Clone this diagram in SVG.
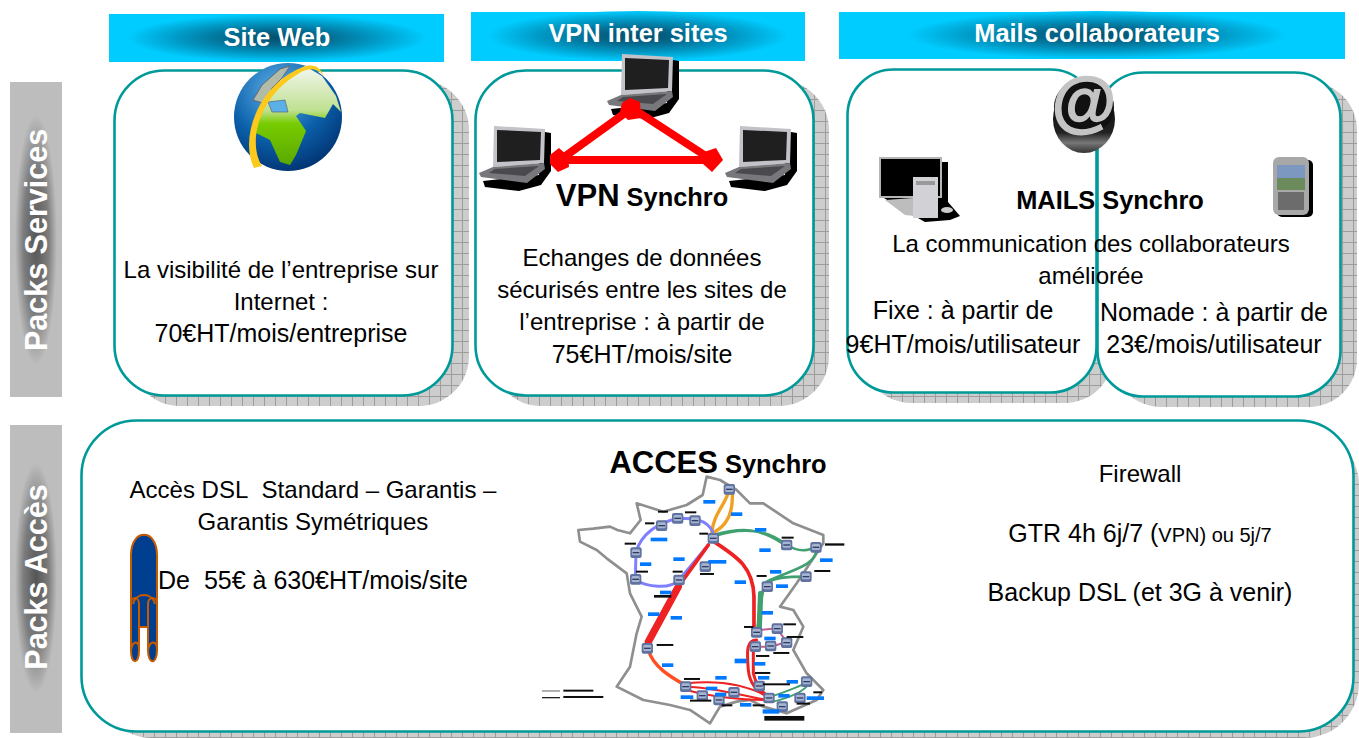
<svg xmlns="http://www.w3.org/2000/svg" width="1359" height="738" viewBox="0 0 1359 738">
<style>
text{font-family:"Liberation Sans",Arial,sans-serif;fill:#000}
.b{font-size:24px;text-anchor:middle}
.c{font-size:25px}
.h{font-size:25.4px;font-weight:bold;fill:#fff;text-anchor:middle}
.side{font-size:30.500px;font-weight:bold;fill:#fff;text-anchor:middle}
.panel{fill:#fff;stroke:#009999;stroke-width:2.6}
.shadow{fill:url(#grid)}
.t{font-weight:bold;text-anchor:middle}
.big{font-size:31px}
.sm{font-size:25.4px}
.lg{fill:#0078ff}
.lb{fill:#111}
.rt{fill:none;stroke-linecap:round}
</style>
<defs>
<pattern id="grid" width="11" height="11" patternUnits="userSpaceOnUse">
<rect width="11" height="11" fill="#cdcdcd"/>
<path d="M0 .5H11M.5 0V11" stroke="#9c9c9c" stroke-width="1"/>
</pattern>
<radialGradient id="hd" cx=".5" cy=".5" r=".5">
<stop offset="0" stop-color="#04506c"/><stop offset=".3" stop-color="#04688c"/><stop offset=".65" stop-color="#0098c4"/><stop offset="1" stop-color="#00ccff"/>
</radialGradient>
<radialGradient id="sideR" cx=".5" cy=".5" r=".5">
<stop offset="0" stop-color="#555"/><stop offset=".6" stop-color="#7d7d7d"/><stop offset="1" stop-color="#bdbdbd"/>
</radialGradient>
<radialGradient id="gl" cx=".4" cy=".25" r=".85">
<stop offset="0" stop-color="#5cb0e8"/><stop offset=".55" stop-color="#0a5ea8"/><stop offset="1" stop-color="#002a66"/>
</radialGradient>
<linearGradient id="land" x1="0" x2="0" y1="0" y2="1">
<stop offset="0" stop-color="#f4f7f0"/><stop offset=".45" stop-color="#bfe090"/><stop offset=".58" stop-color="#78cc00"/><stop offset="1" stop-color="#5aa800"/>
</linearGradient>
<linearGradient id="at" x1="0" x2="0" y1="0" y2="1">
<stop offset="0" stop-color="#000"/><stop offset=".7" stop-color="#222"/><stop offset=".85" stop-color="#777"/><stop offset="1" stop-color="#333"/>
</linearGradient>
<filter id="soft" x="-5%" y="-5%" width="110%" height="110%"><feGaussianBlur stdDeviation="1.700"/></filter>
<g id="laptop">
<path d="M60 6L72 8V46L62 60 40 66 6 62 4 56 60 50Z" fill="#000"/>
<path d="M15 1L66 4 65 38 14 42Z" fill="#c2c2c8"/>
<path d="M18 5L62 7 61 35 18 37Z" fill="#1f1f1f"/>
<path d="M14 42L65 38 66 44 48 58 2 52 0 48Z" fill="#77777c"/>
<path d="M16 44L60 41 46 51 10 48Z" fill="#4a4a4e"/>
</g>
<g id="node"><rect x="-17" y="-16" width="34" height="32" rx="6" fill="#5f72a0"/><rect x="-12" y="-10" width="24" height="18" rx="4" fill="#a6b4d0"/><path d="M-10 0H10" stroke="#2f3c60" stroke-width="4"/></g>
</defs>

<g id="side-services"><rect x="10" y="82" width="52" height="315" fill="#bdbdbd"/><ellipse cx="36" cy="240" rx="21" ry="125" fill="url(#sideR)"/><text class="side" transform="translate(47 240) rotate(-90)">Packs Services</text></g>
<g id="side-acces"><rect x="10" y="425" width="52" height="308" fill="#bdbdbd"/><ellipse cx="36" cy="578" rx="21" ry="115" fill="url(#sideR)"/><text class="side" transform="translate(47 577) rotate(-90)">Packs Accès</text></g>

<g id="header-web"><rect x="109" y="14" width="335" height="48" fill="#00ccff"/><ellipse cx="277" cy="38" rx="150" ry="24" fill="url(#hd)"/><text class="h" x="277" y="46">Site Web</text></g>
<g id="header-vpn"><rect x="471" y="12" width="334" height="49" fill="#00ccff"/><ellipse cx="638" cy="36" rx="150" ry="25" fill="url(#hd)"/><text class="h" x="638" y="42">VPN inter sites</text></g>
<g id="header-mails"><rect x="839" y="12" width="506" height="47" fill="#00ccff"/><ellipse cx="1097" cy="35" rx="190" ry="24" fill="url(#hd)"/><text class="h" x="1097" y="42">Mails collaborateurs</text></g>

<g id="pack-web">
<rect class="shadow" x="130" y="80" width="339" height="326" rx="50"/>
<rect class="panel" x="114.500" y="70.500" width="338" height="325" rx="50"/>
<circle cx="288" cy="117" r="54" fill="url(#gl)"/>
<path d="M253 132L262 104 280 80 305 66 322 76 336 96 341 112 333 104 325 118 300 113 296 116 306 131 296 155 290 165 280 162 270 140 258 134Z" fill="url(#land)"/>
<path d="M253 100L262 85 280 69 290 66 282 78 272 88 266 104Z" fill="#b0bca8" stroke="#667" stroke-width="1"/>
<path d="M268 102L285 100 288 112 272 112Z" fill="#5cb0e8" stroke="#567" stroke-width=".7"/>
<path d="M254 168C240 140 256 90 296 70 308 64 318 62 324 76 318 68 308 67 298 74 262 94 246 140 262 166Z" fill="#fdc91c"/>
<text class="b"><tspan x="281" y="278">La visibilité de l’entreprise sur</tspan><tspan x="281" y="310">Internet :</tspan><tspan class="c" x="281" y="342">70€HT/mois/entreprise</tspan></text>
</g>

<g id="pack-vpn">
<rect class="shadow" x="491" y="80" width="338" height="326" rx="50"/>
<rect class="panel" x="475.500" y="70.500" width="338" height="325" rx="50"/>
<use href="#laptop" x="607" y="53"/>
<use href="#laptop" x="479" y="125"/>
<use href="#laptop" x="725" y="125"/>
<text class="t" x="642" y="206"><tspan class="big">VPN</tspan><tspan class="sm"> Synchro</tspan></text>
<text class="b"><tspan x="642" y="266">Echanges de données</tspan><tspan x="642" y="298">sécurisés entre les sites de</tspan><tspan x="642" y="330">l’entreprise : à partir de</tspan><tspan class="c" x="642" y="363">75€HT/mois/site</tspan></text>
</g>

<g id="pack-mails-fixe">
<rect class="shadow" x="863" y="79" width="250" height="324" rx="48"/>
<rect class="panel" x="847.500" y="69.500" width="249" height="323" rx="46"/>
</g>
<g id="pack-mails-nomade">
<rect class="shadow" x="1113" y="82" width="244" height="325" rx="48"/>
<rect class="panel" x="1097.500" y="72.500" width="243" height="324" rx="46"/>
</g>
<g id="mails-content">
<path d="M942 162H948V202L960 216 950 220 925 222 900 208 884 198H942Z" fill="#000"/>
<rect x="879" y="157" width="63" height="41" fill="#b5b5b5"/><rect x="881" y="159" width="59" height="37" fill="#000"/>
<path d="M885 200L913 198 915 216 905 215Z" fill="#bdbdbd"/>
<rect x="913" y="177" width="25" height="41" fill="#d2d2d6"/><rect x="916" y="181" width="19" height="4" fill="#999"/>
<ellipse cx="947" cy="210" rx="6" ry="3" fill="#ccc"/>
<rect x="1277" y="160" width="36" height="57" rx="5" fill="#000"/>
<rect x="1273" y="157" width="36" height="58" rx="6" fill="#a8a8a8"/>
<rect x="1277" y="165" width="28" height="25" fill="#7d98c0"/><rect x="1277" y="178" width="28" height="12" fill="#6b8b5c"/>
<rect x="1278" y="192" width="26" height="18" fill="#6c6c6c"/>
<ellipse cx="1084" cy="119" rx="31" ry="34" fill="url(#at)"/>
<ellipse cx="1084" cy="107" rx="30" ry="28" fill="#111"/>
<text x="1084" y="124" font-size="66" font-weight="bold" text-anchor="middle" style="fill:#c4c4c4;stroke:#c4c4c4;stroke-width:1.500">@</text>
<text class="t sm" x="1110" y="209">MAILS Synchro</text>
<text class="b"><tspan x="1091" y="252">La communication des collaborateurs</tspan><tspan x="1091" y="284">améliorée</tspan></text>
<text class="b c"><tspan x="963" y="319">Fixe : à partir de</tspan><tspan x="963" y="353">9€HT/mois/utilisateur</tspan></text>
<text class="b c"><tspan x="1214" y="321">Nomade : à partir de</tspan><tspan x="1214" y="353">23€/mois/utilisateur</tspan></text>
</g>

<g id="pack-acces">
<rect class="shadow" x="97" y="430" width="1262" height="308" rx="55"/>
<rect class="panel" x="81.500" y="420.500" width="1272" height="311" rx="55"/>
<path d="M131 650V555C131 528 157 528 157 555V650H148V627H139V650Z" fill="#003f8f" stroke="#c85a00" stroke-width="2"/>
<path d="M131 604C131 596 139 596 139 604V650C139 665 131 665 131 650ZM148 604C148 596 157 596 157 604V650C157 665 148 665 148 650Z" fill="#003f8f" stroke="#c85a00" stroke-width="2"/>
<path d="M133 604C136 592 152 592 155 604M131 650C133 640 139 640 139 650M148 650C150 640 157 640 157 650" fill="none" stroke="#c85a00" stroke-width="2"/>
<text class="b"><tspan x="313" y="498">Accès DSL&#160; Standard – Garantis –</tspan><tspan x="313" y="530">Garantis Symétriques</tspan><tspan class="c" x="313" y="589">De&#160; 55€ à 630€HT/mois/site</tspan></text>
<text class="t" x="718" y="473"><tspan class="big">ACCES</tspan><tspan class="sm"> Synchro</tspan></text>
<text class="b"><tspan x="1140" y="482">Firewall</tspan><tspan class="c" x="1140" y="542">GTR 4h 6j/7 (<tspan font-size="20">VPN) ou 5j/7</tspan></tspan><tspan class="c" x="1140" y="601">Backup DSL (et 3G à venir)</tspan></text>
</g>

<g id="map" transform="translate(530 470) scale(.3333)">
<g filter="url(#soft)">
<path d="M530 20L518 75 470 105 400 125 320 100 332 150 300 190 262 180 240 170 190 176 145 180 150 215 200 240 230 265 290 310 300 370 335 440 320 490 300 590 260 650 340 690 420 705 480 720 540 760 570 710 620 695 660 690 700 710 770 730 860 690 880 660 830 610 790 540 820 470 790 420 750 410 800 340 880 220 880 195 790 160 700 100 660 100 620 60 570 30Z" fill="#fff" stroke="#8f8f8f" stroke-width="8" stroke-linejoin="round"/>
<g class="rt">
<path d="M545 190C550 130 590 100 597 60M545 190C590 170 610 130 607 70" stroke="#f0a020" stroke-width="10"/>
<path d="M548 185C530 150 500 145 445 145 400 155 340 180 318 245L316 330C350 350 420 360 447 330L535 225" stroke="#8080ff" stroke-width="9"/>
<path d="M550 200C620 175 700 170 770 225 810 250 840 240 855 230M550 195C640 170 690 175 760 222M860 235C860 290 780 300 710 335 690 370 690 430 682 480M830 320C780 320 720 320 700 350" stroke="#40a070" stroke-width="8"/>
<path d="M692 370L688 470" stroke="#40a070" stroke-width="16"/>
<path d="M552 215C620 260 670 290 672 380V480" stroke="#ee2020" stroke-width="11"/>
<path d="M535 225L445 350" stroke="#ee2020" stroke-width="11"/>
<path d="M445 350L355 515" stroke="#ee2020" stroke-width="22"/>
<path d="M355 540C370 590 420 620 465 645" stroke="#ff5020" stroke-width="10"/>
<path d="M680 510C650 510 650 540 655 600 660 650 690 670 715 680M670 520V610C680 650 700 670 715 680" stroke="#ee2020" stroke-width="9"/>
<path d="M470 640C560 630 640 640 715 680M470 650C540 650 600 670 715 690M470 660C540 680 640 690 700 690" stroke="#ee2020" stroke-width="6"/>
<path d="M720 680C760 670 800 650 830 640M730 695C770 685 810 670 830 650" stroke="#40a070" stroke-width="6"/>
<path d="M690 480L740 475 770 515 725 530 675 530" stroke="#c06090" stroke-width="6"/>
</g>
<g>
<use href="#node" x="598" y="58"/><use href="#node" x="550" y="205"/><use href="#node" x="443" y="145"/><use href="#node" x="495" y="152"/><use href="#node" x="395" y="167"/><use href="#node" x="318" y="248"/><use href="#node" x="317" y="328"/><use href="#node" x="447" y="330"/><use href="#node" x="526" y="290"/><use href="#node" x="770" y="225"/><use href="#node" x="858" y="232"/><use href="#node" x="828" y="320"/><use href="#node" x="712" y="350"/><use href="#node" x="680" y="487"/><use href="#node" x="742" y="476"/><use href="#node" x="770" y="518"/><use href="#node" x="722" y="528"/><use href="#node" x="676" y="530"/><use href="#node" x="352" y="535"/><use href="#node" x="467" y="650"/><use href="#node" x="612" y="667"/><use href="#node" x="517" y="677"/><use href="#node" x="567" y="690"/><use href="#node" x="688" y="648"/><use href="#node" x="717" y="684"/><use href="#node" x="757" y="710"/><use href="#node" x="810" y="684"/><use href="#node" x="830" y="635"/>
</g>
<g>
<rect class="lg" x="520" y="90" width="36" height="11"/><rect class="lg" x="603" y="127" width="34" height="11"/><rect class="lg" x="675" y="174" width="34" height="11"/><rect class="lg" x="688" y="235" width="34" height="11"/><rect class="lg" x="870" y="265" width="38" height="11"/><rect class="lg" x="720" y="300" width="34" height="11"/><rect class="lg" x="738" y="343" width="36" height="11"/><rect class="lg" x="614" y="331" width="34" height="11"/><rect class="lg" x="362" y="203" width="50" height="11"/><rect class="lg" x="330" y="277" width="34" height="11"/><rect class="lg" x="430" y="262" width="34" height="11"/><rect class="lg" x="535" y="270" width="54" height="11"/><rect class="lg" x="390" y="362" width="34" height="11"/><rect class="lg" x="354" y="427" width="34" height="11"/><rect class="lg" x="422" y="438" width="34" height="11"/><rect class="lg" x="695" y="423" width="34" height="11"/><rect class="lg" x="703" y="500" width="34" height="11"/><rect class="lg" x="396" y="580" width="34" height="11"/><rect class="lg" x="614" y="566" width="36" height="14"/><rect class="lg" x="672" y="576" width="34" height="11"/><rect class="lg" x="684" y="618" width="34" height="11"/><rect class="lg" x="556" y="618" width="34" height="11"/><rect class="lg" x="528" y="650" width="34" height="11"/><rect class="lg" x="555" y="668" width="34" height="11"/><rect class="lg" x="452" y="676" width="38" height="11"/><rect class="lg" x="630" y="699" width="34" height="11"/><rect class="lg" x="698" y="718" width="50" height="13"/><rect class="lg" x="770" y="630" width="34" height="11"/><rect class="lg" x="745" y="672" width="34" height="11"/><rect class="lg" x="830" y="679" width="52" height="11"/>
</g>
<g>
<rect class="lb" x="384" y="122" width="30" height="6"/><rect class="lb" x="465" y="124" width="34" height="6"/><rect class="lb" x="345" y="157" width="28" height="6"/><rect class="lb" x="508" y="188" width="26" height="6"/><rect class="lb" x="284" y="218" width="34" height="6"/><rect class="lb" x="318" y="302" width="36" height="6"/><rect class="lb" x="428" y="302" width="30" height="6"/><rect class="lb" x="510" y="309" width="42" height="6"/><rect class="lb" x="372" y="375" width="52" height="8"/><rect class="lb" x="755" y="200" width="36" height="6"/><rect class="lb" x="885" y="220" width="58" height="7"/><rect class="lb" x="853" y="300" width="48" height="6"/><rect class="lb" x="680" y="315" width="30" height="6"/><rect class="lb" x="642" y="468" width="28" height="6"/><rect class="lb" x="760" y="460" width="38" height="6"/><rect class="lb" x="770" y="498" width="50" height="6"/><rect class="lb" x="730" y="546" width="48" height="6"/><rect class="lb" x="678" y="555" width="40" height="6"/><rect class="lb" x="380" y="522" width="50" height="6"/><rect class="lb" x="675" y="606" width="46" height="6"/><rect class="lb" x="698" y="640" width="82" height="6"/><rect class="lb" x="462" y="624" width="48" height="6"/><rect class="lb" x="480" y="689" width="64" height="6"/><rect class="lb" x="575" y="703" width="32" height="6"/><rect class="lb" x="668" y="703" width="36" height="6"/><rect class="lb" x="703" y="738" width="120" height="14"/><rect class="lb" x="800" y="698" width="40" height="6"/><rect class="lb" x="850" y="664" width="26" height="6"/><rect class="lb" x="100" y="659" width="90" height="6"/><rect class="lb" x="100" y="678" width="120" height="6"/>
<path d="M36 663H90" stroke="#888" stroke-width="4"/><path d="M36 683H90" stroke="#222" stroke-width="4"/>
</g>
</g>
</g>

<g id="connectors" stroke="#ff0000" fill="#ff0000">
<path d="M632 108L712 160M632 108L560 160M560 160H712" fill="none" stroke-width="8"/>
<path d="M630 98L640 102 641 118 628 120 620 112 622 103Z" stroke="none"/>
<path d="M559 148L568 156 569 167 558 172 550 164 550 155Z" stroke="none"/>
<path d="M716 148L723 160 712 172 703 164 704 152Z" stroke="none"/>
</g>
</svg>
